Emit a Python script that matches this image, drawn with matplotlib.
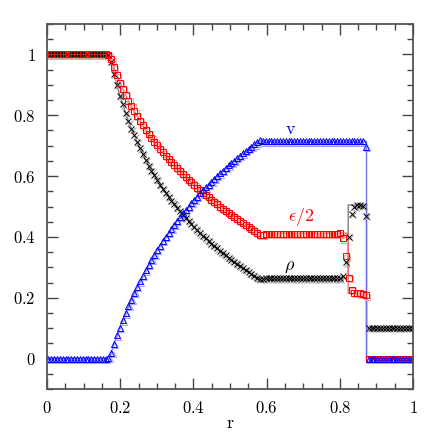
import numpy as np
import matplotlib
matplotlib.use('Agg')
import matplotlib.pyplot as plt
import matplotlib.transforms as mtransforms
from matplotlib.ticker import MultipleLocator, FuncFormatter

plt.rcParams['mathtext.fontset'] = 'cm'
plt.rcParams['font.family'] = 'serif'

# cell centres of the numerical grid (128 zones on [0,1])
ncell = 128
r = (np.arange(ncell) + 0.5) / ncell

# numerical solution
rho_num = ([1.0] * 21 + [0.997] +
           [0.975, 0.936, 0.899, 0.864, 0.836, 0.808, 0.780, 0.756, 0.734, 0.712,
            0.691, 0.672, 0.653, 0.634, 0.618, 0.602, 0.587, 0.572, 0.558, 0.543,
            0.531, 0.519, 0.508, 0.496, 0.484, 0.473, 0.462, 0.452, 0.441, 0.431,
            0.422, 0.412, 0.403, 0.395, 0.386, 0.378, 0.370, 0.362, 0.353, 0.346,
            0.339, 0.332, 0.325, 0.318, 0.311, 0.304, 0.297, 0.291, 0.284, 0.278,
            0.272, 0.266] +
           [0.262, 0.263] + [0.264] * 27 +
           [0.270, 0.316, 0.400, 0.475, 0.500, 0.505, 0.506, 0.503, 0.470] +
           [0.1] * 16)

eps_num = ([1.0] * 21 + [0.998] +
           [0.984, 0.957, 0.931, 0.907, 0.887, 0.867, 0.847, 0.830, 0.813, 0.797,
            0.782, 0.767, 0.752, 0.738, 0.726, 0.713, 0.701, 0.689, 0.678, 0.666,
            0.656, 0.646, 0.636, 0.626, 0.617, 0.607, 0.597, 0.588, 0.579, 0.571,
            0.562, 0.554, 0.545, 0.538, 0.530, 0.523, 0.515, 0.508, 0.500, 0.493,
            0.486, 0.479, 0.472, 0.465, 0.459, 0.452, 0.445, 0.439, 0.432, 0.426,
            0.420, 0.414] +
           [0.407, 0.407, 0.409] + [0.410] * 25 + [0.412] +
           [0.395, 0.336, 0.266, 0.225, 0.217, 0.215, 0.214, 0.213, 0.208] +
           [0.0] * 16)

vel_num = ([0.0] * 21 + [0.002] +
           [0.018, 0.048, 0.076, 0.102, 0.126, 0.149, 0.173, 0.194, 0.215, 0.235,
            0.254, 0.272, 0.290, 0.308, 0.324, 0.340, 0.357, 0.371, 0.386, 0.400,
            0.414, 0.427, 0.440, 0.453, 0.465, 0.477, 0.489, 0.500, 0.511, 0.522,
            0.532, 0.543, 0.553, 0.563, 0.572, 0.582, 0.591, 0.600, 0.609, 0.618,
            0.626, 0.635, 0.643, 0.651, 0.659, 0.667, 0.675, 0.682, 0.690, 0.697,
            0.704, 0.711] +
           [0.718] + [0.714] * 36 + [0.695] +
           [0.0] * 16)

assert len(rho_num) == len(eps_num) == len(vel_num) == ncell

# exact solution
r_ex = [0.0, 0.17, 0.185, 0.2, 0.225, 0.25, 0.275, 0.3, 0.325, 0.35, 0.375, 0.4,
        0.425, 0.45, 0.475, 0.5, 0.525, 0.55, 0.565, 0.577,
        0.823, 0.823, 0.873, 0.873, 1.0]
rho_ex = [1.0, 1.0, 0.924, 0.861, 0.772, 0.701, 0.639, 0.588, 0.542, 0.504, 0.467,
          0.434, 0.404, 0.377, 0.351, 0.328, 0.306, 0.285, 0.273, 0.264,
          0.264, 0.505, 0.505, 0.1, 0.1]
eps_ex = [1.0, 1.0, 0.949, 0.905, 0.841, 0.789, 0.742, 0.702, 0.665, 0.633, 0.602,
          0.573, 0.546, 0.522, 0.498, 0.475, 0.454, 0.433, 0.421, 0.412,
          0.412, 0.214, 0.214, 0.0, 0.0]
vel_ex = [0.0, 0.0, 0.055, 0.105, 0.180, 0.245, 0.303, 0.355, 0.402, 0.444, 0.483,
          0.519, 0.552, 0.583, 0.612, 0.639, 0.665, 0.689, 0.703, 0.714,
          0.714, 0.714, 0.714, 0.0, 0.0]

fig = plt.figure(figsize=(4.36, 4.36), dpi=100)
ax = fig.add_axes([47/436., 1 - 389/436., 366/436., 365/436.])

ax.plot(r_ex, rho_ex, '-', color='#808080', lw=1.0)
ax.plot(r_ex, eps_ex, '-', color='#f07070', lw=1.0)
ax.plot(r_ex, vel_ex, '-', color='#7070f0', lw=1.0)

# faint ghost copy of the symbols, as in the original rendering
ghost = mtransforms.offset_copy(ax.transData, fig=fig, x=1.3, y=-1.3, units='dots')
ax.plot(r, rho_num, 'x', color='#a0a0a0', ms=4.0, mew=0.7, ls='none', transform=ghost)
ax.plot(r, eps_num, 's', mfc='none', mec='#ffa0a0', ms=4.0, mew=0.7, ls='none', transform=ghost)
ax.plot(r, vel_num, '^', mfc='none', mec='#a0a0ff', ms=4.0, mew=0.7, ls='none', transform=ghost)

ax.plot(r, rho_num, 'x', color='black', ms=4.0, mew=0.7, ls='none')
ax.plot(r, eps_num, 's', mfc='none', mec='red', ms=4.0, mew=0.7, ls='none')
ax.plot(r, vel_num, '^', mfc='none', mec='blue', ms=4.0, mew=0.7, ls='none')

ax.text(0.665, 0.756, r'$\mathrm{v}$', color='blue', fontsize=13, ha='center', va='center')
ax.text(0.694, 0.467, r'$\epsilon/2$', color='red', fontsize=13, ha='center', va='center')
ax.text(0.664, 0.304, r'$\rho$', color='black', fontsize=13, ha='center', va='center')

ax.set_xlim(0, 1)
ax.set_ylim(-0.1, 1.1)

fmt = FuncFormatter(lambda x, pos: '$%g$' % round(x, 2))
for axis in (ax.xaxis, ax.yaxis):
    axis.set_major_locator(MultipleLocator(0.2))
    axis.set_minor_locator(MultipleLocator(0.05))
    axis.set_major_formatter(fmt)

ax.tick_params(which='both', direction='in', top=True, right=True, color='#444444',
               labelsize=12)
ax.tick_params(which='major', length=8, width=1.0)
ax.tick_params(which='minor', length=4.5, width=1.0)
ax.tick_params(axis='x', pad=8)
ax.tick_params(axis='y', pad=8)
for s in ax.spines.values():
    s.set_color('#555555')
    s.set_linewidth(1.3)

ax.set_xlabel(r'$\mathrm{r}$', fontsize=13, labelpad=-2)

fig.savefig('out.png', dpi=100)
